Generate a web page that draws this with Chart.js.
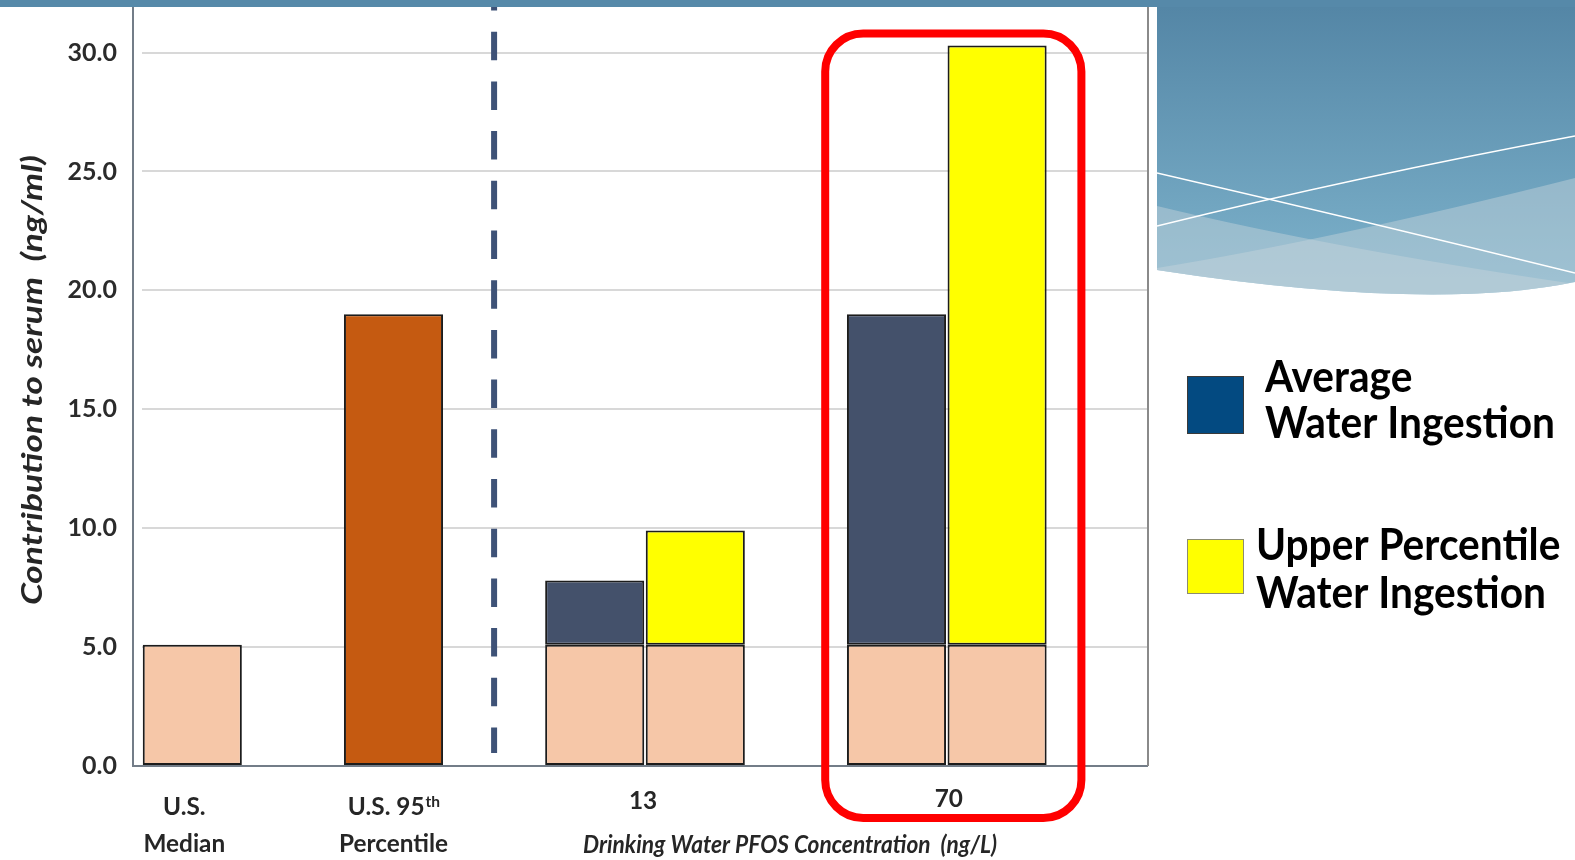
<!DOCTYPE html>
<html>
<head>
<meta charset="utf-8">
<script src="https://cdn.jsdelivr.net/npm/chart.js@4.4.1/dist/chart.umd.min.js"></script>
<style>
  html, body { margin: 0; padding: 0; background: #ffffff; }
  canvas { display: block; }
</style>
</head>
<body>
<canvas id="serumChart" width="1575" height="860"></canvas>
<script>
// Ten equal slots along the x axis; empty slots keep the spacing between groups.
const slots = ['U.S. Median', 'gap-a', 'U.S. 95th Percentile', 'divider', '13 average', '13 upper', 'gap-b', '70 average', '70 upper', 'gap-c'];

// Serum contributions (ng/ml)
const backgroundSerum   = [5.1, null, null, null, 5.1, 5.1, null, 5.1, 5.1, null];
const percentile95Serum = [null, null, 19.0, null, null, null, null, null, null, null];
const averageIngestion  = [null, null, null, null, 2.7, null, null, 13.9, null, null];
const upperIngestion    = [null, null, null, null, null, 4.8, null, null, 25.2, null];

const yTickValues = [0, 5, 10, 15, 20, 25, 30];

// Category captions under the axis: slot range + text lines
const xGroupSlots  = [[0, 0], [2, 2], [4, 5], [7, 8]];
const xGroupLines  = [
  [{ text: 'U.S.' }, { text: 'Median' }],
  [{ text: 'U.S. 95', sup: 'th' }, { text: 'Percentile' }],
  [{ text: '13' }],
  [{ text: '70' }]
];
const xAxisTitle = 'Drinking Water PFOS Concentration  (ng/L)';
const yAxisTitle = 'Contribution to serum  (ng/ml)';

const legendLines  = [['Average', 'Water Ingestion'], ['Upper Percentile', 'Water Ingestion']];
const legendColors = ['#034a81', '#ffff00'];

const COLORS = {
  base: '#f6c7a8',
  p95: '#c55a11',
  avg: '#44516b',
  upper: '#ffff00'
};

// draws text squeezed horizontally by sx
function drawText(ctx, text, x, y, sx, align) {
  ctx.save();
  ctx.translate(x, y);
  ctx.scale(sx, 1);
  ctx.textAlign = align || 'left';
  ctx.fillText(text, 0, 0);
  ctx.restore();
}

function widthScale(ctx, text, target) {
  return target / ctx.measureText(text).width;
}

const decorPlugin = {
  id: 'decor',
  beforeDraw(chart) {
    const ctx = chart.ctx;
    const W = chart.width;
    ctx.save();
    ctx.fillStyle = '#ffffff';
    ctx.fillRect(0, 0, W, chart.height);

    // blue header panel on the right
    const x0 = 1157, x1 = W;
    const panel = new Path2D();
    panel.moveTo(x0, 0);
    panel.lineTo(x1, 0);
    panel.lineTo(x1, 282);
    panel.quadraticCurveTo(1430, 312, x0, 270);
    panel.closePath();
    const g = ctx.createLinearGradient(0, 0, 0, 285);
    g.addColorStop(0, '#5385a5');
    g.addColorStop(1, '#7db2cb');
    ctx.fillStyle = g;
    ctx.fill(panel);
    ctx.save();
    ctx.clip(panel);
    ctx.fillStyle = 'rgba(200, 212, 220, 0.45)';
    ctx.beginPath();
    ctx.moveTo(x0, 206);
    ctx.quadraticCurveTo(1330, 248, x1, 284);
    ctx.lineTo(x1, 320);
    ctx.lineTo(x0, 320);
    ctx.closePath();
    ctx.fill();
    ctx.beginPath();
    ctx.moveTo(x0, 268);
    ctx.quadraticCurveTo(1330, 240, x1, 178);
    ctx.lineTo(x1, 320);
    ctx.lineTo(x0, 320);
    ctx.closePath();
    ctx.fill();
    ctx.strokeStyle = '#ffffff';
    ctx.lineWidth = 1.4;
    ctx.beginPath();
    ctx.moveTo(x0, 173);
    ctx.quadraticCurveTo(1360, 220, x1, 273);
    ctx.stroke();
    ctx.beginPath();
    ctx.moveTo(x0, 226);
    ctx.quadraticCurveTo(1360, 176, x1, 136);
    ctx.stroke();
    ctx.restore();
    ctx.restore();
  },
  beforeDatasetsDraw(chart) {
    const ctx = chart.ctx;
    const xs = chart.scales.x;
    const area = chart.chartArea;
    // dashed divider between reference values and drinking-water scenarios
    const xd = xs.getPixelForValue(3);
    ctx.save();
    ctx.strokeStyle = '#3e5277';
    ctx.lineWidth = 6;
    ctx.setLineDash([28.5, 21.2]);
    ctx.beginPath();
    ctx.moveTo(xd, area.top - 23);
    ctx.lineTo(xd, area.bottom - 13);
    ctx.stroke();
    ctx.restore();
  },
  afterDatasetsDraw(chart) {
    const ctx = chart.ctx;
    const area = chart.chartArea;
    ctx.save();
    // axis frame
    ctx.lineWidth = 2;
    ctx.strokeStyle = '#737d88';
    ctx.beginPath();
    ctx.moveTo(133, 0);
    ctx.lineTo(133, area.bottom);
    ctx.lineTo(area.right, area.bottom);
    ctx.stroke();
    ctx.strokeStyle = '#8a8a8a';
    ctx.beginPath();
    ctx.moveTo(area.right, 0);
    ctx.lineTo(area.right, area.bottom);
    ctx.stroke();
    ctx.restore();
  },
  afterDraw(chart) {
    const ctx = chart.ctx;
    const xs = chart.scales.x;
    const ys = chart.scales.y;
    const area = chart.chartArea;
    const slotW = xs.getPixelForValue(1) - xs.getPixelForValue(0);

    // highlight box around the 70 ng/L scenario
    const hx0 = xs.getPixelForValue(7) - slotW / 2 - 21;
    const hx1 = xs.getPixelForValue(8) + slotW / 2 + 34;
    const hy0 = ys.getPixelForValue(backgroundSerum[8] + upperIngestion[8]) - 12;
    const hy1 = area.bottom + 52;
    ctx.save();
    ctx.strokeStyle = '#ff0000';
    ctx.lineWidth = 8;
    ctx.beginPath();
    ctx.roundRect(hx0, hy0, hx1 - hx0, hy1 - hy0, 38);
    ctx.stroke();
    ctx.restore();

    // category captions
    ctx.save();
    ctx.fillStyle = '#262626';
    ctx.textBaseline = 'alphabetic';
    const F = 'bold 25px Lato', FS = 'bold 16px Lato';
    ctx.font = F;
    const sxLabel = widthScale(ctx, 'Percentile', 109);
    const lineBase = [815, 852];
    const groupOffsets = [-8, 0, -2, 2];
    const singleBase = [0, 0, 809, 807];
    xGroupSlots.forEach((rng, i) => {
      const cx = (xs.getPixelForValue(rng[0]) + xs.getPixelForValue(rng[1])) / 2 + groupOffsets[i];
      xGroupLines[i].forEach((ln, j) => {
        const y = xGroupLines[i].length === 1 ? singleBase[i] : lineBase[j];
        if (ln.sup) {
          ctx.font = F;
          const mw = ctx.measureText(ln.text).width * sxLabel;
          ctx.font = FS;
          const sw = ctx.measureText(ln.sup).width * sxLabel;
          const left = cx - (mw + sw) / 2;
          ctx.font = F;
          drawText(ctx, ln.text, left, y, sxLabel, 'left');
          ctx.font = FS;
          drawText(ctx, ln.sup, left + mw + 1, y - 8, sxLabel, 'left');
        } else {
          ctx.font = F;
          drawText(ctx, ln.text, cx, y, sxLabel, 'center');
        }
      });
    });

    // x axis title
    ctx.font = 'italic bold 25px Lato';
    drawText(ctx, xAxisTitle, 790, 853, widthScale(ctx, xAxisTitle, 414), 'center');

    // y axis title (rotated)
    ctx.font = 'italic bold 28px Lato';
    const sy = widthScale(ctx, yAxisTitle, 450);
    ctx.translate(42, 380);
    ctx.rotate(-Math.PI / 2);
    drawText(ctx, yAxisTitle, 0, 0, sy, 'center');
    ctx.restore();

    // legend
    ctx.save();
    const sw = [[1187, 376, 57, 58], [1187, 539, 57, 55]];
    legendColors.forEach((c, i) => {
      ctx.fillStyle = c;
      ctx.fillRect(sw[i][0], sw[i][1], sw[i][2], sw[i][3]);
      ctx.strokeStyle = i === 0 ? '#3a3a3a' : '#8c8c70';
      ctx.lineWidth = 1;
      ctx.strokeRect(sw[i][0] + 0.5, sw[i][1] + 0.5, sw[i][2] - 1, sw[i][3] - 1);
    });
    ctx.fillStyle = '#000000';
    ctx.font = 'bold 44px Lato';
    const sxLeg = widthScale(ctx, 'Water Ingestion', 290);
    const legX = [1265, 1256];
    const legY = [[392, 438], [560, 608]];
    legendLines.forEach((lines, i) => {
      lines.forEach((t, j) => drawText(ctx, t, legX[i], legY[i][j], sxLeg, 'left'));
    });
    ctx.restore();

    // slide header band
    ctx.save();
    ctx.fillStyle = '#5689a9';
    ctx.fillRect(0, 0, chart.width, 7);
    ctx.restore();
  }
};

new Chart(document.getElementById('serumChart'), {
  type: 'bar',
  data: {
    labels: slots,
    datasets: [
      { label: 'Background', data: backgroundSerum, backgroundColor: COLORS.base },
      { label: 'U.S. 95th Percentile', data: percentile95Serum, backgroundColor: COLORS.p95 },
      { label: 'Average Water Ingestion', data: averageIngestion, backgroundColor: COLORS.avg },
      { label: 'Upper Percentile Water Ingestion', data: upperIngestion, backgroundColor: COLORS.upper }
    ]
  },
  options: {
    responsive: false,
    animation: false,
    devicePixelRatio: 1,
    layout: { padding: { left: 0, right: 427, top: 5, bottom: 0 } },
    plugins: { legend: { display: false }, tooltip: { enabled: false } },
    datasets: {
      bar: {
        categoryPercentage: 1,
        barPercentage: 0.985,
        borderColor: '#1c1c1c',
        borderWidth: 2,
        borderSkipped: false
      }
    },
    scales: {
      x: {
        stacked: true,
        grid: { display: false },
        border: { display: false },
        ticks: { display: false },
        afterFit: s => { s.height = 94; s.paddingLeft = 0; s.paddingRight = 0; }
      },
      y: {
        stacked: true,
        min: 0,
        max: 32,
        afterFit: s => { s.width = 142; s.paddingTop = 0; s.paddingBottom = 0; },
        afterBuildTicks: s => { s.ticks = yTickValues.map(v => ({ value: v })); },
        grid: { color: '#d8d8d8', lineWidth: 2, drawTicks: false },
        border: { display: false },
        ticks: {
          padding: 25,
          color: '#2b2b2b',
          font: { family: 'Lato', size: 25, weight: 'bold' },
          callback: v => Number(v).toFixed(1)
        }
      }
    }
  },
  plugins: [decorPlugin]
});
</script>
</body>
</html>
